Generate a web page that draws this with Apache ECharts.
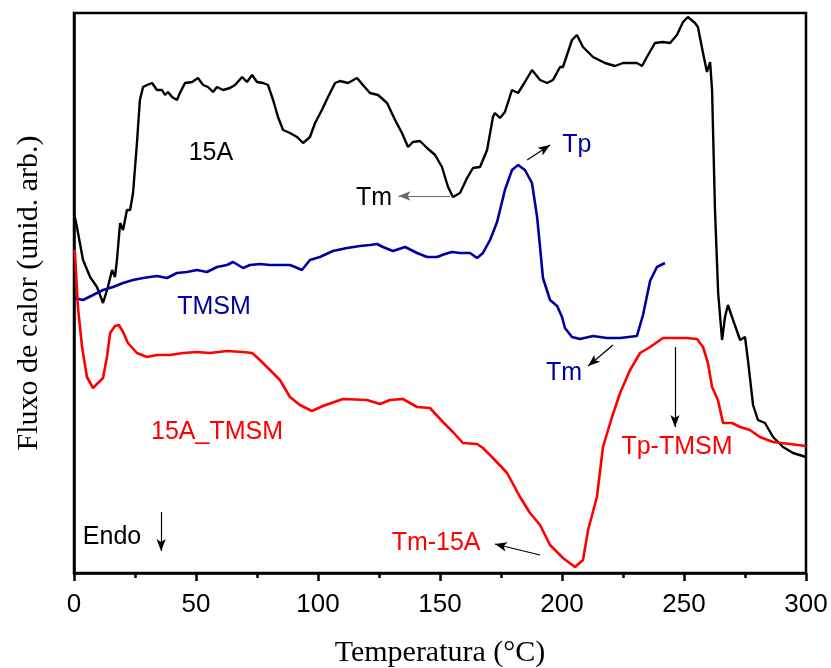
<!DOCTYPE html>
<html>
<head>
<meta charset="utf-8">
<script src="https://cdn.jsdelivr.net/npm/echarts@6/dist/echarts.min.js"></script>
<style>
  html, body { margin: 0; padding: 0; background: #fff; }
  #main { width: 831px; height: 668px; }
</style>
</head>
<body>
<div id="main"></div>
<script>
// x ticks
const xTicks = [0, 50, 100, 150, 200, 250, 300];

// 15A (black)
const temp15A = [0, 1.2, 3.7, 6.6, 9.4, 11.9, 13.9, 15.6, 16.8, 17.6, 18.9, 20.1, 21.7, 23.0, 24.2, 25.8, 27.0, 28.3, 29.9, 32.0,
  34.0, 36.1, 37.3, 38.5, 40.2, 42.2, 43.4, 45.5, 48.4, 50.8, 52.9, 54.9, 57.0, 58.6, 61.1, 63.9, 66.0, 68.9, 70.9, 73.0,
  75.0, 77.5, 79.5, 81.6, 83.6, 85.7, 88.5, 91.4, 93.9, 96.7, 98.8, 101.6, 104.1, 107.0, 109.0, 112.3, 116.0, 118.4, 121.3, 124.6,
  128.3, 131.6, 134.4, 136.9, 138.9, 141.8, 144.7, 148.0, 150.8, 153.3, 155.3, 158.2, 161.1, 163.5, 166.4, 169.3, 171.7, 172.5, 174.6, 176.6,
  179.5, 182.0, 184.8, 187.7, 191.0, 193.9, 196.3, 199.2, 200.4, 204.1, 206.1, 208.6, 212.7, 217.6, 221.7, 225.0, 230.7, 232.8, 234.8, 238.1,
  241.4, 244.3, 247.1, 249.6, 251.6, 254.5, 255.7, 257.8, 259.4, 260.7, 261.5, 262.7, 264.0, 265.6, 266.8, 268.0, 270.1, 273.0, 275.0, 276.2,
  278.3, 280.3, 283.2, 286.5, 290.6, 294.7, 300];
const flux15A = [360, 346, 313, 296, 286, 270, 286, 303, 296, 313, 350, 343, 363, 363, 380, 430, 473, 486, 488, 490,
  483, 483, 478, 481, 476, 473, 480, 490, 491, 495, 488, 486, 481, 486, 483, 485, 488, 496, 491, 498,
  491, 490, 488, 473, 456, 443, 440, 436, 430, 436, 450, 463, 476, 490, 492, 490, 495, 488, 480, 478,
  470, 453, 440, 426, 431, 432, 425, 418, 406, 386, 376, 380, 395, 405, 406, 423, 456, 460, 455, 461,
  483, 480, 491, 503, 493, 490, 493, 506, 506, 533, 538, 526, 516, 510, 507, 510, 510, 507, 516, 530,
  531, 530, 538, 551, 556, 550, 546, 520, 501, 511, 483, 363, 280, 233, 256, 268, 253, 233, 236, 213,
  168, 153, 150, 136, 126, 120, 116];

// TMSM (blue)
const tempTMSM = [0, 3.7, 7.8, 11.9, 16.0, 20.1, 24.2, 28.3, 34.0, 38.1, 42.2, 46.3, 50.4, 54.5, 58.6, 62.7, 65.2, 69.3, 72.1, 76.2,
  80.3, 84.4, 88.5, 90.6, 93.4, 96.7, 100.8, 106.1, 111.9, 117.2, 121.3, 124.2, 126.6, 130.7, 135.7, 140.6, 144.7, 148.8, 152.0, 154.9,
  158.2, 162.3, 165.2, 167.6, 170.5, 173.4, 176.6, 179.5, 182.0, 184.8, 187.7, 189.8, 191.0, 192.2, 195.1, 198.0, 200.0, 201.2, 204.1, 207.4,
  212.7, 218.4, 223.8, 230.7, 233.2, 236.1, 238.9, 242.2];
const fluxTMSM = [275, 273, 278, 283, 286, 290, 293, 295, 297, 295, 300, 301, 303, 301, 306, 308, 311, 305, 308, 309,
  308, 308, 308, 306, 303, 313, 316, 322, 325, 327, 328, 329, 326, 322, 326, 320, 316, 316, 319, 321,
  320, 320, 315, 320, 333, 351, 383, 403, 408, 403, 390, 356, 326, 295, 273, 267, 256, 245, 236, 234,
  237, 235, 235, 237, 258, 292, 306, 310];

// 15A_TMSM (red)
const tempMix = [0, 0.4, 1.6, 3.3, 5.3, 7.8, 9.8, 11.9, 13.5, 14.8, 16.8, 18.4, 20.1, 22.1, 25.8, 29.9, 34.0, 39.3, 44.7, 50.4,
  55.7, 62.7, 69.3, 73.0, 76.2, 80.3, 84.4, 88.5, 92.6, 97.5, 102.0, 110.2, 120.1, 125.4, 129.5, 134.8, 140.6, 145.9, 151.2, 155.3,
  159.4, 165.2, 167.6, 171.7, 177.5, 182.8, 186.9, 191.0, 195.1, 200.4, 205.3, 208.6, 210.7, 214.3, 216.8, 220.5, 223.8, 227.9, 232.0, 236.1,
  241.4, 245.5, 251.2, 255.3, 257.8, 259.8, 261.5, 263.9, 266.0, 269.7, 273.0, 277.0, 281.1, 286.5, 293.4, 300];
const fluxMix = [323, 320, 266, 226, 196, 185, 190, 195, 216, 240, 247, 248, 241, 230, 220, 216, 218, 218, 220, 221,
  220, 222, 221, 220, 213, 203, 193, 176, 168, 162, 167, 174, 173, 169, 173, 174, 166, 165, 151, 141,
  130, 129, 125, 115, 100, 76, 60, 48, 28, 15, 6, 13, 43, 76, 126, 156, 180, 203, 220, 226,
  235, 235, 235, 234, 226, 210, 186, 173, 150, 150, 146, 143, 136, 131, 129, 127];

const zip = (a, b) => a.map((t, i) => [t, b[i]]);

const labelFont = '"Liberation Sans", Arial, sans-serif';
const serifFont = '"Liberation Serif", "Times New Roman", serif';

function note(text, x, y, color) {
  return {
    coord: [x, y], symbol: 'circle', symbolSize: 0,
    label: { show: true, position: 'inside', formatter: text, color: color, fontSize: 25, fontFamily: labelFont }
  };
}
// line with arrow head at the end point
function arrow(x1, y1, x2, y2, color) {
  return [
    { coord: [x1, y1], symbol: 'none', lineStyle: { color: color, width: 1.2, type: 'solid' } },
    { coord: [x2, y2], symbol: 'arrow', symbolSize: [7, 12], itemStyle: { color: '#000' } }
  ];
}

const chart = echarts.init(document.getElementById('main'));
const option = {
  animation: false,
  grid: { left: 74, right: 25, top: 13, bottom: 95, show: true, borderColor: '#000', borderWidth: 2.5,
    outerBoundsMode: 'none', containLabel: false },
  xAxis: {
    type: 'value', min: 0, max: 300, interval: 50,
    name: 'Temperatura (°C)', nameLocation: 'middle', nameGap: 65,
    nameTextStyle: { fontFamily: serifFont, fontSize: 30, color: '#000' },
    axisLine: { lineStyle: { color: '#000', width: 2.5 } },
    axisTick: { inside: false, length: 8, lineStyle: { color: '#000', width: 2.5 } },
    minorTick: { show: true, splitNumber: 2, length: 5, lineStyle: { color: '#000', width: 2.5 } },
    axisLabel: { fontFamily: labelFont, fontSize: 26, color: '#000', margin: 19,
      formatter: v => xTicks.includes(v) ? String(v) : '' },
    splitLine: { show: false }
  },
  yAxis: {
    type: 'value', min: 0, max: 560,
    name: 'Fluxo de calor (unid. arb.)', nameLocation: 'middle', nameGap: 30,
    nameTextStyle: { fontFamily: serifFont, fontSize: 30, color: '#000' },
    axisLine: { show: true, lineStyle: { color: '#000', width: 2.5 } },
    axisTick: { show: false }, axisLabel: { show: false }, splitLine: { show: false }
  },
  series: [
    {
      name: '15A', type: 'line', data: zip(temp15A, flux15A), showSymbol: false,
      lineStyle: { color: '#000', width: 2.4 }, z: 3,
      markPoint: { silent: true, data: [note('15A', 56.1, 420, '#000'), note('Tm', 123, 375, '#000'), note('Endo', 15.6, 36, '#000')] },
      markLine: { silent: true, label: { show: false },
        data: [arrow(154.1, 377, 133.0, 377, '#666'), arrow(35.7, 61, 35.7, 22, '#000')] }
    },
    {
      name: 'TMSM', type: 'line', data: zip(tempTMSM, fluxTMSM), showSymbol: false,
      lineStyle: { color: '#0000a0', width: 2.6 }, z: 4,
      markPoint: { silent: true, data: [note('TMSM', 57.4, 266, '#0000a0'), note('Tp', 206.1, 428, '#0000a0'), note('Tm', 200.8, 200, '#0000a0')] },
      markLine: { silent: true, label: { show: false },
        data: [arrow(185.7, 413, 195.1, 428, '#000'), arrow(220.9, 228, 210.7, 207, '#000')] }
    },
    {
      name: '15A_TMSM', type: 'line', data: zip(tempMix, fluxMix), showSymbol: false,
      lineStyle: { color: '#ff0000', width: 2.6 }, z: 5,
      markPoint: { silent: true, data: [note('15A_TMSM', 58.6, 141, '#ff0000'), note('Tm-15A', 148.4, 30, '#ff0000'), note('Tp-TMSM', 247.1, 126, '#ff0000')] },
      markLine: { silent: true, label: { show: false },
        data: [arrow(191.0, 18, 172.5, 29, '#000'), arrow(246.3, 226, 246.3, 146, '#000')] }
    }
  ]
};
chart.setOption(option);
</script>
</body>
</html>
